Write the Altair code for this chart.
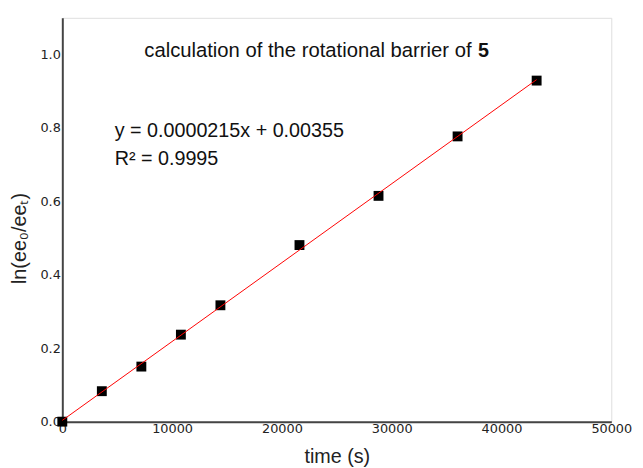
import altair as alt
import pandas as pd

# data
time_s = [0, 3600, 7200, 10800, 14400, 21600, 28800, 36000, 43200]
ln_ratio = [0.0, 0.083, 0.150, 0.237, 0.317, 0.481, 0.615, 0.777, 0.929]

title_main = "calculation of the rotational barrier of"
title_bold = "5"
eq_text = "y = 0.0000215x + 0.00355"
r2_text = "R² = 0.9995"
x_title = "time (s)"
y_title = "ln(ee₀/eeₜ)"
x_ticks = [0, 10000, 20000, 30000, 40000, 50000]
y_ticks = [0.0, 0.2, 0.4, 0.6, 0.8, 1.0]

df = pd.DataFrame({"t": time_s, "y": ln_ratio})

W, H = 556, 409
FONT = "Liberation Sans"

xscale = alt.Scale(domain=[0, 50000], nice=False, zero=True)
yscale = alt.Scale(domain=[0, 1.1], nice=False)

xaxis = alt.Axis(
    title=x_title, values=x_ticks, format="d", grid=False, ticks=False,
    domainColor="#444", domainWidth=2, labelFont="DejaVu Sans", labelFontSize=13,
    labelColor="#222", labelPadding=1, labelFlush=False,
    titleFont=FONT, titleFontSize=20, titleFontWeight="normal", titleColor="#222",
    titleY=35, titleBaseline="middle",
)
yaxis = alt.Axis(
    title=y_title, values=y_ticks, format=".1f", grid=False, ticks=False,
    domainColor="#444", domainWidth=2, labelFont="DejaVu Sans", labelFontSize=13,
    labelColor="#222", labelPadding=2, labelFlush=False,
    titleFont=FONT, titleFontSize=20, titleFontWeight="normal", titleColor="#222",
    titleX=-43, titleY=223, titleAngle=-90, titleAlign="center", titleBaseline="middle",
)

base = alt.Chart(df)

points = base.mark_square(size=100, color="black", opacity=1).encode(
    x=alt.X("t:Q", scale=xscale, axis=xaxis),
    y=alt.Y("y:Q", scale=yscale, axis=yaxis),
)

fit = base.transform_regression("t", "y", extent=[0, 43200]).mark_line(
    color="red", strokeWidth=1
).encode(
    x=alt.X("t:Q", scale=xscale),
    y=alt.Y("y:Q", scale=yscale),
)

ann = pd.DataFrame({"a": [0]})
t1 = alt.Chart(ann).mark_text(
    text=title_main, font=FONT, fontSize=20.5, align="left", baseline="middle", color="#111"
).encode(x=alt.value(83), y=alt.value(34))
t1b = alt.Chart(ann).mark_text(
    text=title_bold, font=FONT, fontSize=20, fontWeight="bold", align="left",
    baseline="middle", color="#111"
).encode(x=alt.value(421), y=alt.value(34))
t2 = alt.Chart(ann).mark_text(
    text=eq_text, font=FONT, fontSize=20, align="left", baseline="middle", color="#111"
).encode(x=alt.value(53), y=alt.value(115))
t3 = alt.Chart(ann).mark_text(
    text=r2_text, font=FONT, fontSize=20, align="left", baseline="middle", color="#111"
).encode(x=alt.value(53), y=alt.value(143))

chart = alt.layer(points, fit, t1, t1b, t2, t3).properties(
    width=W, height=H,
    autosize=alt.AutoSizeParams(type="none"),
    padding={"left": 55, "top": 7, "right": 24, "bottom": 44},
).configure_view(stroke=None).configure(background="white")

chart.save("out.html", embed_options={"renderer": "svg", "actions": False})
